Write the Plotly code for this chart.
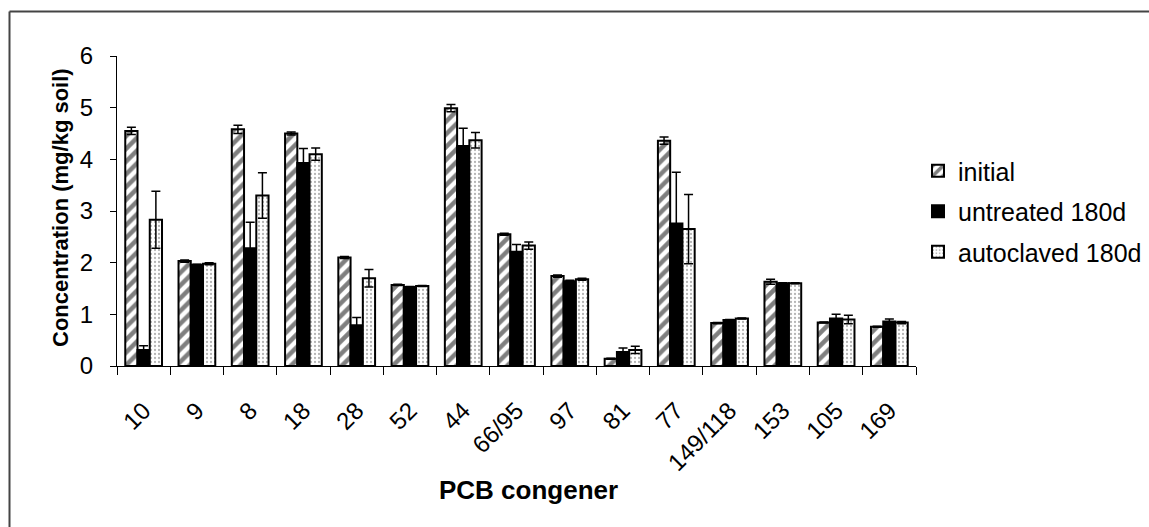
import plotly.graph_objects as go

# PCB congener concentrations (mg/kg soil) with standard errors
congeners = ["10", "9", "8", "18", "28", "52", "44", "66/95", "97", "81",
             "77", "149/118", "153", "105", "169"]

initial = [4.55, 2.03, 4.58, 4.50, 2.10, 1.57, 4.99, 2.55, 1.74, 0.14,
           4.36, 0.83, 1.63, 0.84, 0.76]
initial_err = [0.07, 0.02, 0.08, 0.03, 0.02, 0.01, 0.07, 0.02, 0.02, 0.01,
               0.07, 0.01, 0.05, 0.01, 0.01]

untreated = [0.31, 1.96, 2.28, 3.93, 0.79, 1.53, 4.26, 2.21, 1.64, 0.27,
             2.76, 0.89, 1.60, 0.92, 0.86]
untreated_err = [0.08, 0.01, 0.50, 0.28, 0.15, 0.01, 0.34, 0.14, 0.02, 0.08,
                 0.99, 0.01, 0.01, 0.08, 0.05]

autoclaved = [2.83, 1.98, 3.30, 4.10, 1.70, 1.55, 4.37, 2.33, 1.68, 0.31,
              2.65, 0.92, 1.60, 0.90, 0.84]
autoclaved_err = [0.55, 0.02, 0.44, 0.12, 0.17, 0.01, 0.15, 0.07, 0.02, 0.07,
                  0.67, 0.01, 0.01, 0.08, 0.02]

series_names = ["initial", "untreated 180d", "autoclaved 180d"]

W, H = 1149, 527
L, R, T, B = 117, 233, 56, 161
plot_w = W - L - R
plot_h = H - T - B

FONT = "Liberation Sans, Arial, sans-serif"

def err(vals):
    return dict(type="data", array=vals, visible=True, color="black",
                thickness=1.5, width=4.5)

outline = dict(color="black", width=2)

fig = go.Figure()
fig.add_trace(go.Bar(
    x=congeners, y=initial, name=series_names[0], error_y=err(initial_err),
    legendgroup="a",
    marker=dict(color="white", line=outline,
                pattern=dict(shape="/", fgcolor="black", bgcolor="white",
                             size=9, solidity=0.5)),
))
fig.add_trace(go.Bar(
    x=congeners, y=untreated, name=series_names[1], error_y=err(untreated_err),
    legendgroup="b",
    marker=dict(color="black", line=outline),
))
fig.add_trace(go.Bar(
    x=congeners, y=autoclaved, name=series_names[2], error_y=err(autoclaved_err),
    legendgroup="c",
    marker=dict(color="white", line=outline,
                pattern=dict(shape=".", fgcolor="#6a6a6a", bgcolor="white",
                             size=4, solidity=0.25)),
))

def px_x(px):
    return (px - L) / plot_w

def px_y(py):
    return (H - B - py) / plot_h

fig.update_layout(
    width=W, height=H,
    margin=dict(l=L, r=R, t=T, b=B, autoexpand=False),
    paper_bgcolor="white", plot_bgcolor="white",
    font=dict(family=FONT, color="black"),
    barmode="group", bargap=0.31, bargroupgap=0.0,
    showlegend=True,
    legend=dict(x=px_x(918), y=px_y(148), xanchor="left", yanchor="top",
                font=dict(size=25, family=FONT), traceorder="grouped",
                tracegroupgap=5, bgcolor="rgba(0,0,0,0)", itemwidth=30),
    xaxis=dict(type="category", showline=True, linecolor="black", linewidth=1,
               ticks="outside", tickson="boundaries", ticklen=8,
               tickcolor="black", tickwidth=1, tickangle=-45,
               tickfont=dict(size=24, family=FONT), ticklabelstandoff=20,
               showgrid=False, zeroline=False, automargin=False),
    yaxis=dict(range=[0, 6], dtick=1, showline=True, linecolor="black",
               linewidth=1, ticks="outside", ticklen=6, tickcolor="black",
               tickfont=dict(size=24, family=FONT), ticklabelstandoff=12,
               showgrid=False, zeroline=False, automargin=False),
    annotations=[
        dict(text="<b>Concentration (mg/kg soil)</b>", textangle=-90,
             xref="paper", yref="paper", x=px_x(60), y=px_y(208),
             xanchor="center", yanchor="middle", showarrow=False,
             font=dict(size=22, family=FONT)),
        dict(text="<b>PCB congener</b>",
             xref="paper", yref="paper", x=px_x(528), y=px_y(490),
             xanchor="center", yanchor="middle", showarrow=False,
             font=dict(size=26, family=FONT)),
    ],
    shapes=[
        dict(type="line", xref="paper", yref="paper",
             x0=px_x(9.5), x1=px_x(W + 20), y0=px_y(11.5), y1=px_y(11.5),
             line=dict(color="#444444", width=2)),
        dict(type="line", xref="paper", yref="paper",
             x0=px_x(9.5), x1=px_x(9.5), y0=px_y(11.5), y1=px_y(H + 20),
             line=dict(color="#444444", width=2)),
    ],
)

fig.write_html("out.html")
